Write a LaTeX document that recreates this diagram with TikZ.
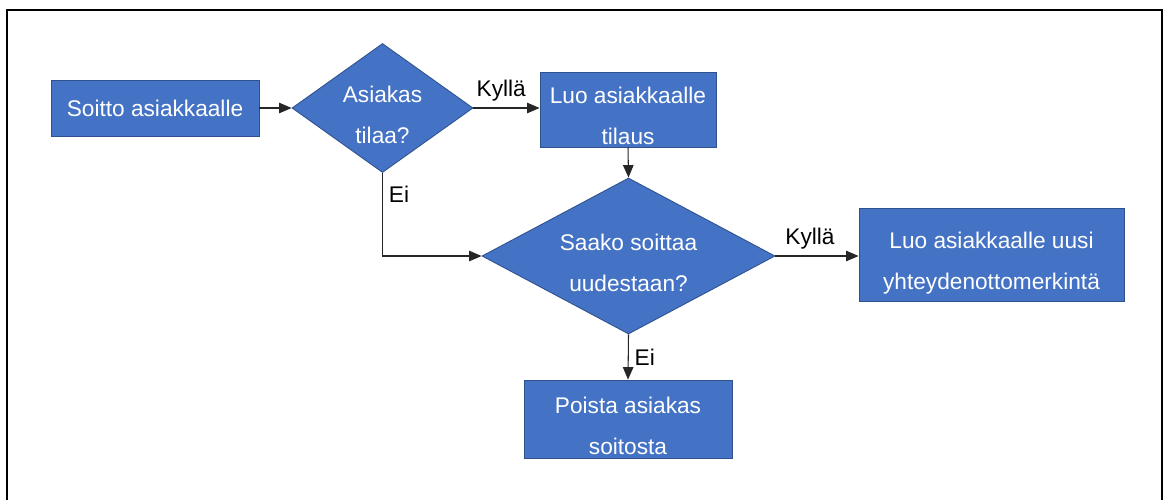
\documentclass[tikz,border=0pt]{standalone}
\usepackage{fontspec}
\setmainfont{Liberation Sans}
\usetikzlibrary{shapes.geometric,arrows.meta}
\definecolor{boxblue}{HTML}{4472C4}
\definecolor{boxedge}{HTML}{2F528F}
\newcommand{\lowline}[1][6mm]{\rule{0pt}{#1}}
\begin{document}
\begin{tikzpicture}[x=0.2mm, y=0.2mm]
\tikzstyle{every node}+=[font=\fontsize{12.9}{23.3}\selectfont]
\tikzstyle{stepbox}=[rectangle, fill=boxblue, draw=boxedge, line width=0.5pt, text=white, align=center, inner sep=0pt]
\tikzstyle{question}=[diamond, fill=boxblue, draw=boxedge, line width=0.5pt, text=white, align=center, inner sep=0pt]
\tikzstyle{arr}=[draw=black!85, line width=0.6pt, -{Triangle[length=2.5mm,width=2.1mm]}]
\useasboundingbox (0,0) rectangle (1164,-500);
\draw [black, line width=1.1pt] (7,-500) -- (7,-10) -- (1162,-10) -- (1162,-500);
\node [stepbox, minimum width=41.6mm, minimum height=11.2mm] (soitto) at (155,-108) {Soitto asiakkaalle};
\node [question, shape aspect=1.4, minimum width=36.2mm, minimum height=25.8mm] (tilaa) at (382.5,-108) {\lowline[6.2mm]Asiakas\\tilaa?};
\node [stepbox, minimum width=35.2mm, minimum height=15mm] (tilaus) at (628,-109.5) {\lowline Luo asiakkaalle\\tilaus};
\node [question, shape aspect=1.88, minimum width=58.6mm, minimum height=31.2mm] (uudestaan) at (628.5,-256) {\lowline[6.2mm]Saako soittaa\\uudestaan?};
\node [stepbox, minimum width=53mm, minimum height=18.6mm] (merkinta) at (991.5,-254.5) {\lowline[6.8mm]Luo asiakkaalle uusi\\yhteydenottomerkintä};
\node [stepbox, minimum width=41.6mm, minimum height=15.6mm] (poista) at (628,-419) {\lowline Poista asiakas\\soitosta};
\draw [arr] (soitto.east) -- (soitto.east -| tilaa.west);
\draw [arr] (tilaa.east) -- (tilaa.east -| tilaus.west) node [midway, above, xshift=-3pt] {Kyllä};
\draw [arr] (tilaus.south) -- (uudestaan.north);
\draw [arr] (tilaa.south) |- (uudestaan.west) node [pos=0.13, right] {Ei};
\draw [arr] (uudestaan.east) -- (uudestaan.east -| merkinta.west) node [midway, above, xshift=-4pt] {Kyllä};
\draw [arr] (uudestaan.south) -- (poista.north) node [midway, right] {Ei};
\end{tikzpicture}
\end{document}
